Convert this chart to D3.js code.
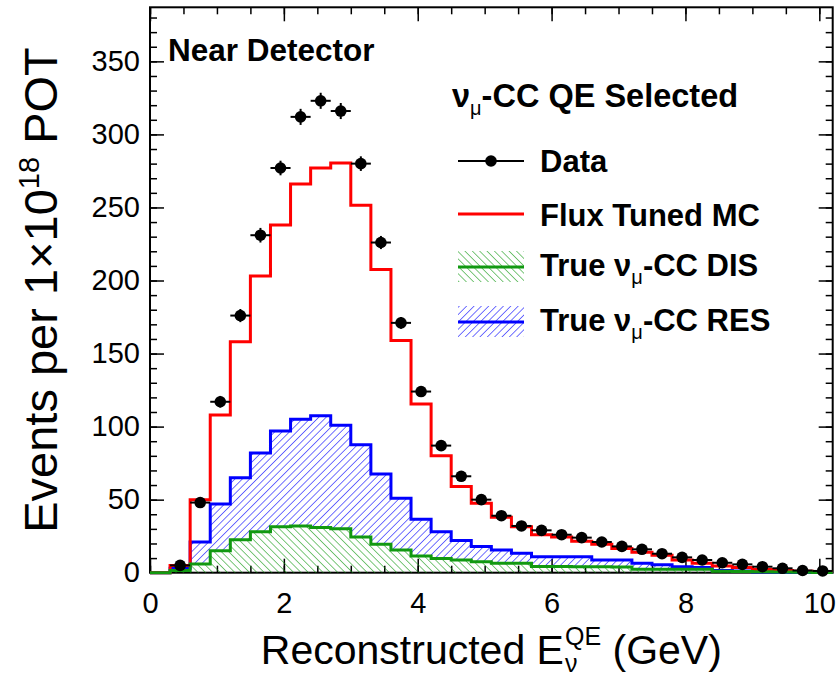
<!DOCTYPE html>
<html>
<head>
<meta charset="utf-8">
<script src="https://cdn.jsdelivr.net/npm/d3@7"></script>
<style>
  body { margin: 0; background: #fff; }
  svg { display: block; font-family: "Liberation Sans", Arial, sans-serif; }
</style>
</head>
<body>
<div id="chart"></div>
<script>
// bins of 0.3 GeV from 0 to 10.2
const binEdges = d3.range(35).map(i => +(i * 0.3).toFixed(2))

// data points (null = no point)
const dataVals = [null, 5, 48, 117, 176, 231, 277, 312, 323, 316, 280, 226, 171, 124, 87, 66, 50, 39, 32, 29, 26, 24, 21, 18, 16, 13, 10.5, 8.7, 6.8, 5.7, 4.1, 3, 1.5, 1.2]
const dataErr = [0, 1.2, 3, 4, 4.5, 5, 5, 5.5, 5.5, 5.5, 5, 4.5, 4, 3.5, 3, 2.5, 2.2, 2, 1.8, 1.7, 1.6, 1.5, 1.4, 1.3, 1.2, 1.1, 1, 0.9, 0.8, 0.7, 0.6, 0.5, 0.4, 0.4]
// flux tuned MC
const mcVals = [0, 5, 50, 108, 158, 203, 238, 266, 277, 280.5, 251.5, 207.5, 159, 115.5, 80, 59, 47.5, 38, 31.5, 26, 24.5, 21.5, 19.5, 16.5, 14, 12, 8.7, 6.5, 4.6, 3.5, 2.2, 1.5, 1, 0.6]
// true numu CC RES (outer, blue)
const resVals = [0, 3, 21, 47, 65, 82, 97, 105, 107.5, 101, 87.5, 67.5, 51, 36.5, 28, 22, 18, 15.5, 13.3, 11, 11, 11, 8.7, 8.7, 6.5, 5.5, 4, 3.5, 1.5, 1.2, 0.5, 0.3, 0.2, 0.1]
// true numu CC DIS (inner, green)
const disVals = [0, 1.5, 6, 15, 22.5, 28, 31.5, 32, 31, 30, 24.5, 19.5, 15.5, 11.5, 9.8, 8.7, 7.5, 6.4, 6.4, 4.3, 4.2, 4.1, 4.0, 3.9, 2.3, 2.3, 2.3, 2.3, 1, 0.8, 0.6, 0.4, 0.3, 0.2]

const xMajor = [0, 2, 4, 6, 8, 10]
const xMinor = d3.range(0, 10.3, 0.5)
const yMajor = [0, 50, 100, 150, 200, 250, 300, 350]
const yMinor = d3.range(0, 390, 10)

const width = 838, height = 679
const red = '#ff0000', blue = '#0000ff', green = '#119911'
const legFont = '31px'

const x = d3.scaleLinear().domain([0, 10.2]).range([150, 832.7])
const y = d3.scaleLinear().domain([0, 387]).range([572.7, 7.3])

const svg = d3.select('#chart').append('svg')
    .attr('width', width)
    .attr('height', height)

// hatch patterns
const defs = svg.append('defs')
function hatch(id, color, angle) {
    const p = defs.append('pattern')
        .attr('id', id)
        .attr('patternUnits', 'userSpaceOnUse')
        .attr('width', 5.2).attr('height', 5.2)
        .attr('patternTransform', `rotate(${angle})`)
    p.append('line')
        .attr('x1', 0).attr('y1', 0).attr('x2', 0).attr('y2', 5.2)
        .attr('stroke', color).attr('stroke-width', 1.1)
}
hatch('hatchBlue', blue, 45)
hatch('hatchGreen', green, -45)

const bins = dataVals.map((d, i) => ({
    lo: binEdges[i], hi: binEdges[i + 1], data: d, err: dataErr[i],
    mc: mcVals[i], res: resVals[i], dis: disVals[i]
}))

// frame
svg.append('rect')
    .attr('x', x(0)).attr('y', y(387))
    .attr('width', x(10.2) - x(0)).attr('height', y(0) - y(387))
    .attr('fill', 'none').attr('stroke', 'black').attr('stroke-width', 2)

// axes
function axisStyle(g) {
    g.select('.domain').remove()
    g.selectAll('line').attr('stroke', 'black').attr('stroke-width', 1.5)
    g.selectAll('text').attr('fill', 'black').style('font-size', '29px')
        .style('font-family', '"Liberation Sans", Arial, sans-serif')
}
svg.append('g').attr('transform', `translate(0,${y(0)})`)
    .call(d3.axisBottom(x).tickValues(xMinor).tickSize(-7).tickFormat('')).call(axisStyle)
svg.append('g').attr('transform', `translate(0,${y(0)})`)
    .call(d3.axisBottom(x).tickValues(xMajor).tickSize(-14).tickPadding(20).tickFormat(d3.format('d'))).call(axisStyle)
svg.append('g').attr('transform', `translate(0,${y(387)})`)
    .call(d3.axisTop(x).tickValues(xMinor).tickSize(-7).tickFormat('')).call(axisStyle)
svg.append('g').attr('transform', `translate(0,${y(387)})`)
    .call(d3.axisTop(x).tickValues(xMajor).tickSize(-14).tickFormat('')).call(axisStyle)
svg.append('g').attr('transform', `translate(${x(0)},0)`)
    .call(d3.axisLeft(y).tickValues(yMinor).tickSize(-7).tickFormat('')).call(axisStyle)
svg.append('g').attr('transform', `translate(${x(0)},0)`)
    .call(d3.axisLeft(y).tickValues(yMajor).tickSize(-14).tickPadding(10).tickFormat(d3.format('d'))).call(axisStyle)
svg.append('g').attr('transform', `translate(${x(10.2)},0)`)
    .call(d3.axisRight(y).tickValues(yMinor).tickSize(-7).tickFormat('')).call(axisStyle)
svg.append('g').attr('transform', `translate(${x(10.2)},0)`)
    .call(d3.axisRight(y).tickValues(yMajor).tickSize(-14).tickFormat('')).call(axisStyle)

// step points: each bin gives its low edge, then the final high edge
function stepPoints(key) {
    const pts = bins.map(b => [b.lo, b[key]])
    pts.push([binEdges[binEdges.length - 1], bins[bins.length - 1][key]])
    return pts
}
const stepLine = d3.line().x(d => x(d[0])).y(d => y(d[1])).curve(d3.curveStepAfter)

// hatched areas
const bandArea = d3.area()
    .x(d => x(d.e)).y0(d => y(d.lo)).y1(d => y(d.hi)).curve(d3.curveStepAfter)
const resPts = bins.map(b => ({ e: b.lo, lo: b.dis, hi: b.res }))
resPts.push({ e: 10.2, lo: bins[bins.length - 1].dis, hi: bins[bins.length - 1].res })
const disPts = bins.map(b => ({ e: b.lo, lo: 0, hi: b.dis }))
disPts.push({ e: 10.2, lo: 0, hi: bins[bins.length - 1].dis })

svg.append('path').attr('d', bandArea(resPts)).attr('fill', 'url(#hatchBlue)')
svg.append('path').attr('d', bandArea(disPts)).attr('fill', 'url(#hatchGreen)')

svg.append('path').attr('d', stepLine(stepPoints('res')))
    .attr('fill', 'none').attr('stroke', blue).attr('stroke-width', 3)
svg.append('path').attr('d', stepLine(stepPoints('mc')))
    .attr('fill', 'none').attr('stroke', red).attr('stroke-width', 3)
svg.append('path').attr('d', stepLine(stepPoints('dis')))
    .attr('fill', 'none').attr('stroke', green).attr('stroke-width', 3)

// data points with error bars
const pts = svg.append('g').selectAll('g')
    .data(bins.filter(b => b.data !== null))
    .join('g')
pts.append('line')
    .attr('x1', d => x(d.lo)).attr('x2', d => x(d.hi))
    .attr('y1', d => y(d.data)).attr('y2', d => y(d.data))
    .attr('stroke', 'black').attr('stroke-width', 2)
pts.append('line')
    .attr('x1', d => x((d.lo + d.hi) / 2)).attr('x2', d => x((d.lo + d.hi) / 2))
    .attr('y1', d => y(d.data - d.err)).attr('y2', d => y(d.data + d.err))
    .attr('stroke', 'black').attr('stroke-width', 2)
pts.append('circle')
    .attr('cx', d => x((d.lo + d.hi) / 2)).attr('cy', d => y(d.data))
    .attr('r', 5.8).attr('fill', 'black')

// labels
svg.append('text')
    .attr('x', 168).attr('y', 61)
    .style('font-size', '31.5px').style('font-weight', 'bold')
    .text('Near Detector')

function numuText(sel, before, after) {
    if (before) sel.append('tspan').text(before)
    sel.append('tspan').text('ν')
    sel.append('tspan').attr('dy', 8).style('font-size', '20px').style('font-weight', 'normal').text('μ')
    sel.append('tspan').attr('dy', -8).text(after)
}

const legX = 458, legW = 66, textX = 540
const title = svg.append('text').attr('x', 452).attr('y', 107)
    .style('font-size', '32.5px').style('font-weight', 'bold')
numuText(title, '', '-CC QE Selected')

// legend entries
const lg = svg.append('g')
lg.append('line').attr('x1', legX).attr('x2', legX + legW).attr('y1', 161).attr('y2', 161)
    .attr('stroke', 'black').attr('stroke-width', 2)
lg.append('circle').attr('cx', legX + legW / 2).attr('cy', 161).attr('r', 5.8).attr('fill', 'black')
lg.append('text').attr('x', textX).attr('y', 172).style('font-size', legFont).style('font-weight', 'bold').text('Data')

lg.append('line').attr('x1', legX).attr('x2', legX + legW).attr('y1', 214).attr('y2', 214)
    .attr('stroke', red).attr('stroke-width', 3)
lg.append('text').attr('x', textX).attr('y', 226).style('font-size', legFont).style('font-weight', 'bold').text('Flux Tuned MC')

lg.append('rect').attr('x', legX).attr('y', 251).attr('width', legW).attr('height', 31).attr('fill', 'url(#hatchGreen)')
lg.append('line').attr('x1', legX).attr('x2', legX + legW).attr('y1', 267).attr('y2', 267)
    .attr('stroke', green).attr('stroke-width', 3)
const t3 = lg.append('text').attr('x', textX).attr('y', 276).style('font-size', legFont).style('font-weight', 'bold')
numuText(t3, 'True ', '-CC DIS')

lg.append('rect').attr('x', legX).attr('y', 306).attr('width', legW).attr('height', 31).attr('fill', 'url(#hatchBlue)')
lg.append('line').attr('x1', legX).attr('x2', legX + legW).attr('y1', 322).attr('y2', 322)
    .attr('stroke', blue).attr('stroke-width', 3)
const t4 = lg.append('text').attr('x', textX).attr('y', 331).style('font-size', legFont).style('font-weight', 'bold')
numuText(t4, 'True ', '-CC RES')

// y axis title, centred on the axis
const yt = svg.append('text')
    .attr('transform', `translate(57,${(y(0) + y(387)) / 2}) rotate(-90)`)
    .attr('text-anchor', 'middle')
    .style('font-size', '47px')
yt.append('tspan').text('Events per 1×10')
yt.append('tspan').attr('dy', -18).style('font-size', '29px').text('18')
yt.append('tspan').attr('dy', 18).text('\u00a0POT')

// x axis title, built from pieces so the sub/superscript can stack
const xt = svg.append('g')
const base = 664
const p1 = xt.append('text').attr('x', 0).attr('y', base).style('font-size', '41px').text('Reconstructed E')
const w1 = p1.node().getComputedTextLength()
const sub = xt.append('text').attr('x', w1 + 1).attr('y', base + 8).style('font-size', '25px').text('ν')
const sup = xt.append('text').attr('x', w1 + 1).attr('y', base - 19).style('font-size', '25px').text('QE')
const w2 = Math.max(sub.node().getComputedTextLength(), sup.node().getComputedTextLength())
const p3 = xt.append('text').attr('x', w1 + 1 + w2).attr('y', base).style('font-size', '41px').text('\u00a0(GeV)')
const total = w1 + 1 + w2 + p3.node().getComputedTextLength()
xt.attr('transform', `translate(${(x(0) + x(10.2)) / 2 - total / 2},0)`)
</script>
</body>
</html>
